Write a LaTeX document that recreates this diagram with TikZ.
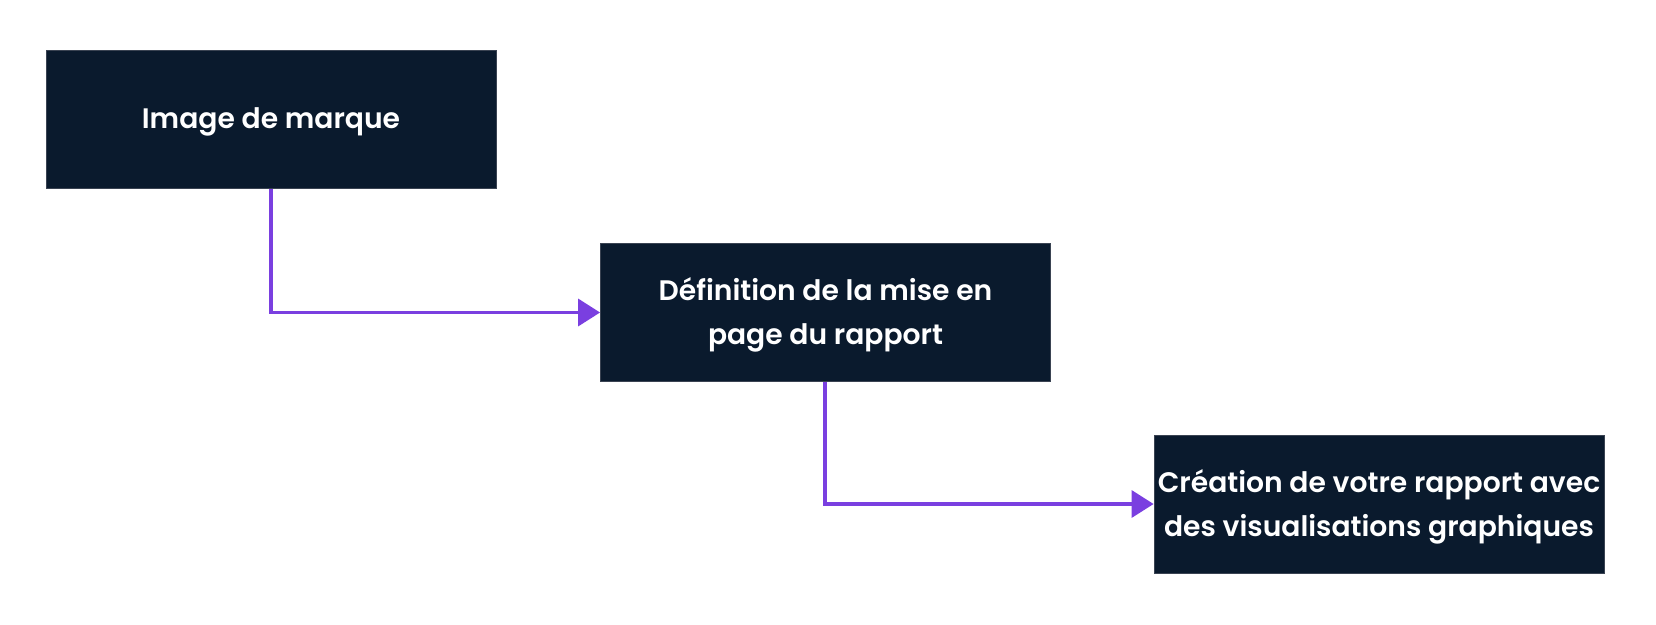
\documentclass[tikz,border=0pt]{standalone}
\usepackage{fontspec}
\setmainfont{Poppins}[BoldFont={Poppins SemiBold}]
\usetikzlibrary{arrows.meta}
\definecolor{boxfill}{HTML}{0A1A2D}
\definecolor{boxline}{HTML}{3A4352}
\definecolor{arrowc}{HTML}{7A3FE0}
\begin{document}
\begin{tikzpicture}[x=1pt,y=-1pt,
  box/.style={draw=boxline,line width=0.8pt,fill=boxfill,
    minimum width=450pt,minimum height=138pt,inner sep=0pt},
  label text/.style={text=white,inner sep=0pt,align=center,
    font=\fontsize{28.2}{44}\selectfont\bfseries},
  link/.style={draw=arrowc,line width=3.5pt,
    -{Triangle[length=22pt,width=27pt]}}]
\useasboundingbox (0,0) rectangle (1656,624);
\node[box] (a) at (271,119.5) {};
\node[box] (b) at (825.5,312.5) {};
\node[box] (c) at (1379,504) {};
\node[label text] (ta) at ([yshift=-2pt]a.center) {Image de marque};
\node[label text] (tb) at ([yshift=-2pt]b.center) {Définition de la mise en\\page du rapport};
\node[label text] (tc) at ([yshift=-3pt]c.center) {Création de votre rapport avec\\des visualisations graphiques};
\draw[link] (a.south -| 271,0) |- (b.west);
\draw[link] (b.south -| 825,0) |- (c.west);
\end{tikzpicture}
\end{document}
